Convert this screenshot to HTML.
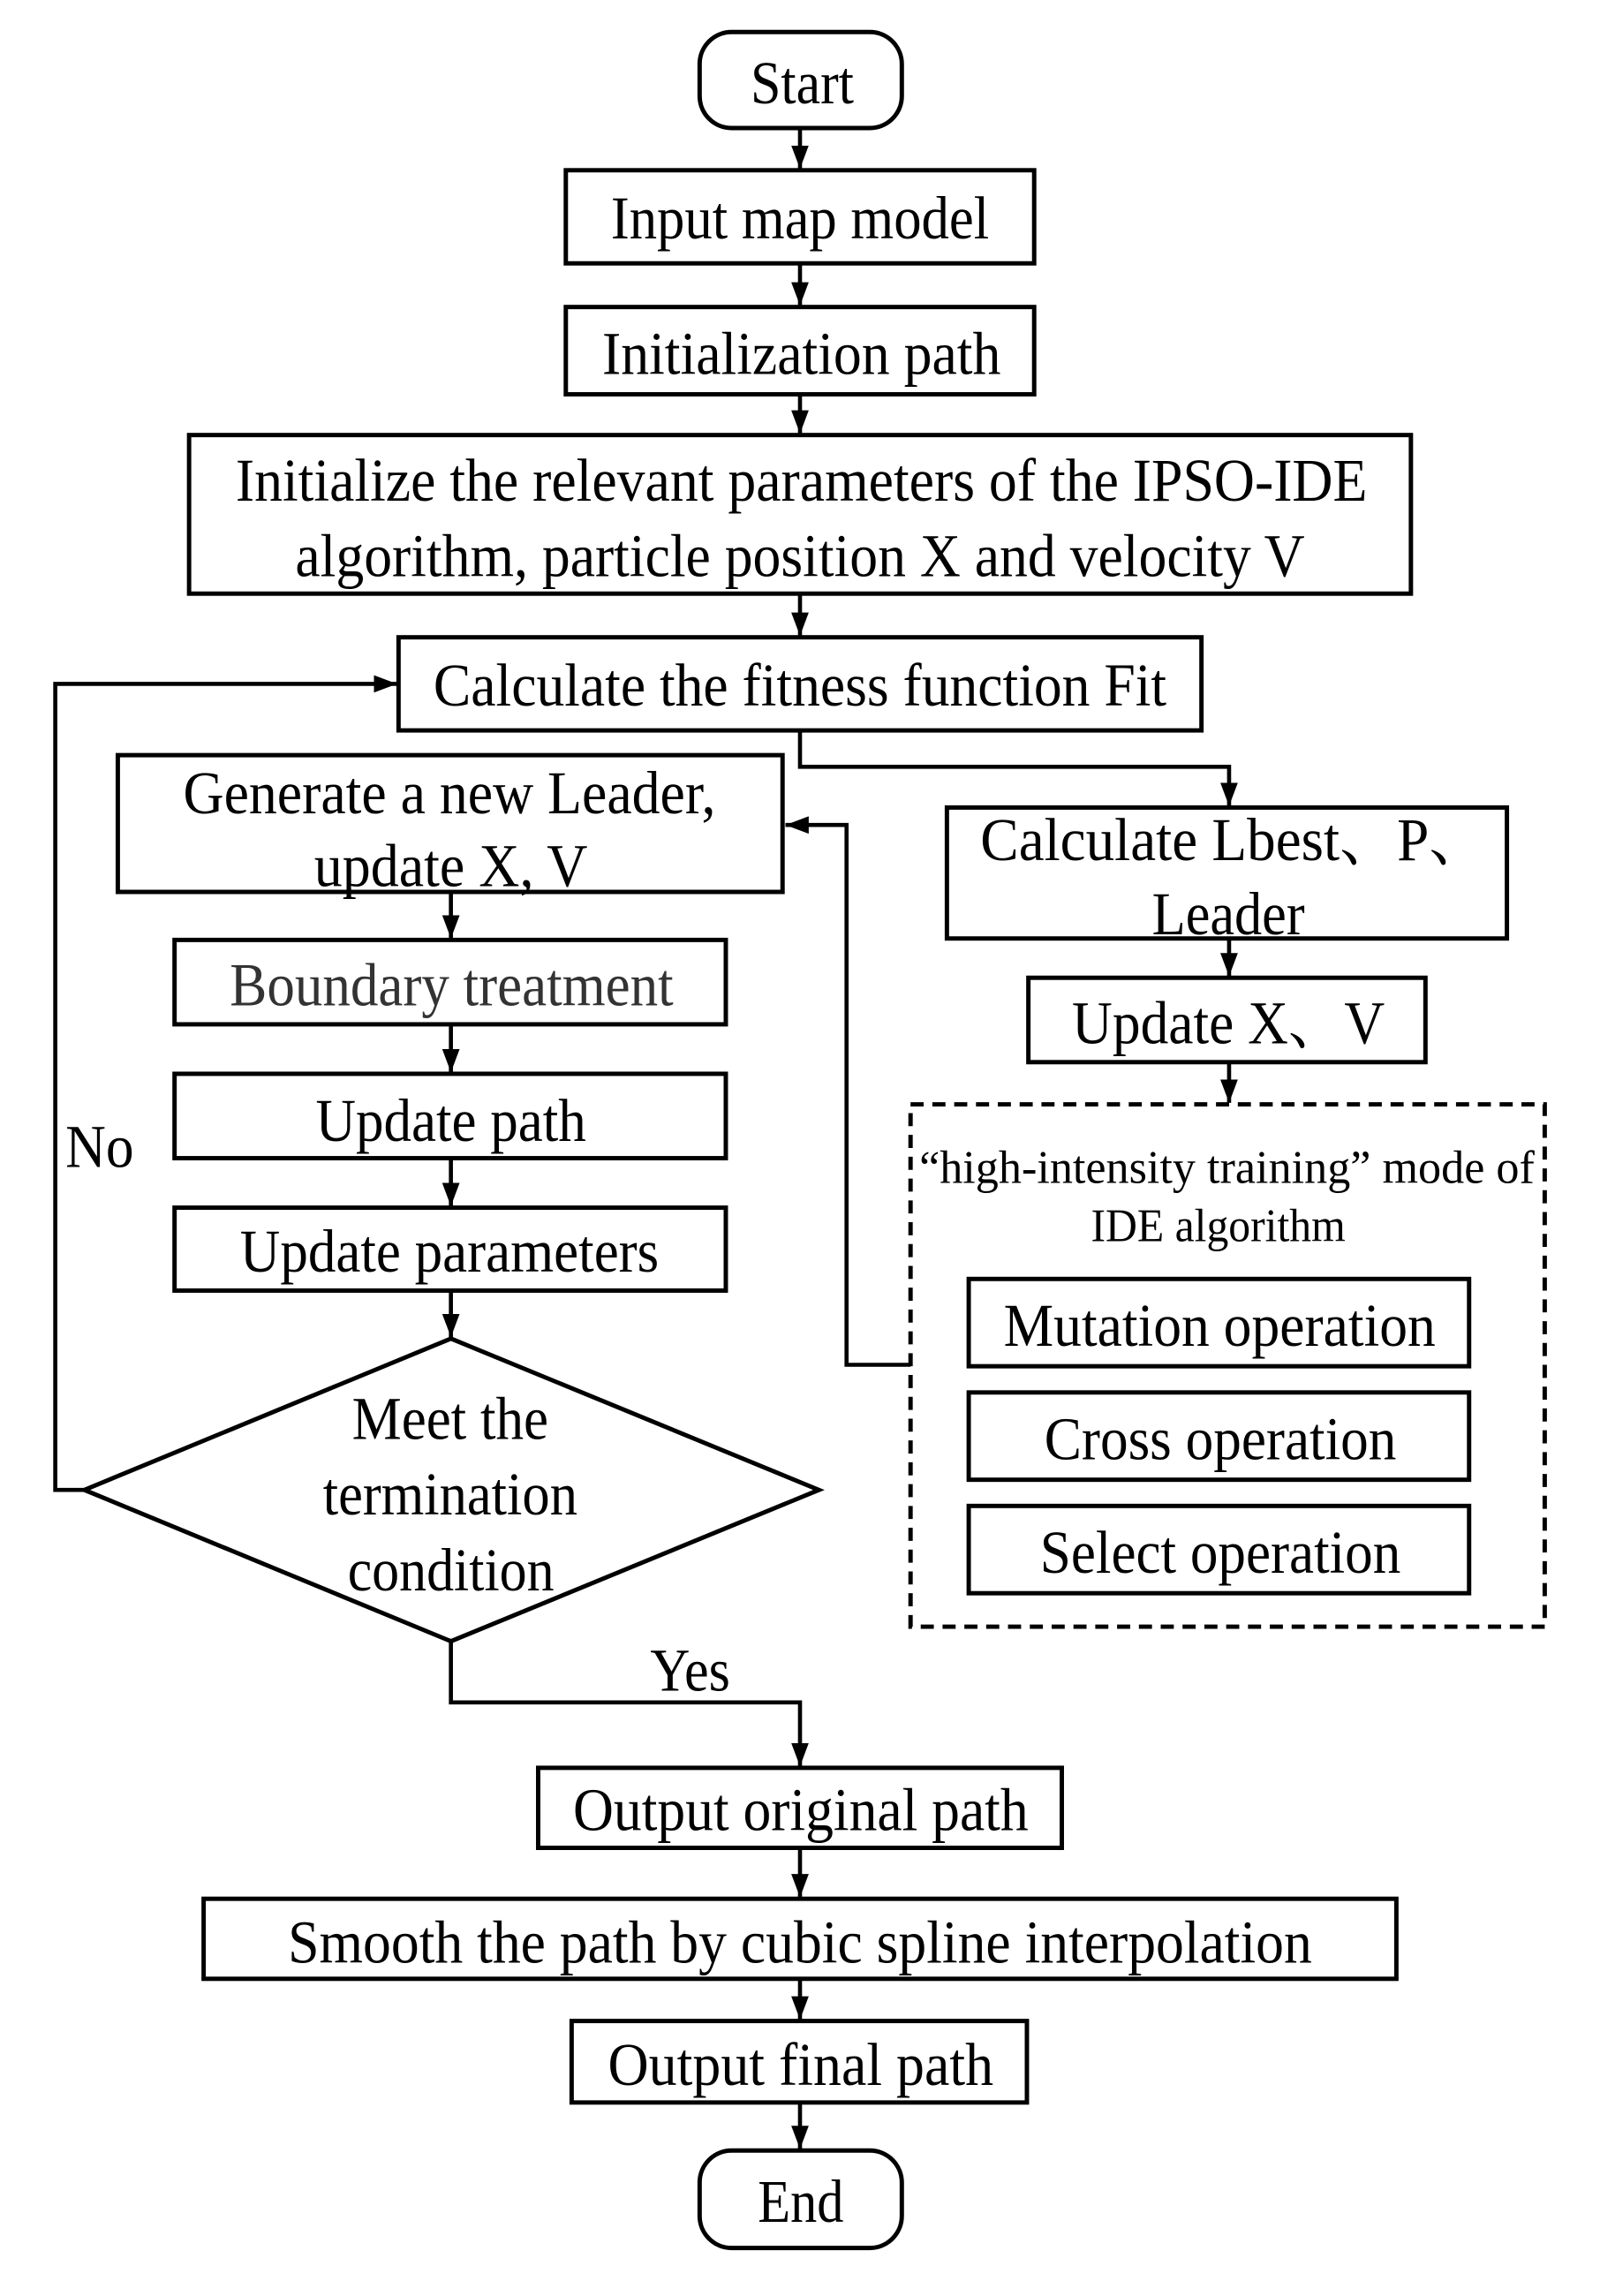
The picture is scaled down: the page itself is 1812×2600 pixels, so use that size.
<!DOCTYPE html>
<html><head><meta charset="utf-8"><style>html,body{margin:0;padding:0;background:#fff}svg{display:block}</style></head>
<body>
<svg width="1812" height="2600" viewBox="0 0 1100 1578" preserveAspectRatio="none" xmlns="http://www.w3.org/2000/svg">
<defs>
<marker id="a" viewBox="0 0 16 12" refX="16" refY="6" markerWidth="16" markerHeight="12" markerUnits="userSpaceOnUse" orient="auto">
<path d="M0,0 L16,6 L0,12 z" fill="#000"/></marker>
</defs>
<g fill="none" stroke="#000" stroke-width="3">
<rect x="481" y="22" width="139" height="66" rx="22"/>
<rect x="389" y="117" width="322" height="64"/>
<rect x="389" y="211" width="322" height="60"/>
<rect x="130" y="299" width="840" height="109"/>
<rect x="274" y="438" width="552" height="64"/>
<rect x="81" y="519" width="457" height="94"/>
<rect x="120" y="646" width="379" height="58"/>
<rect x="120" y="738" width="379" height="58"/>
<rect x="120" y="830" width="379" height="57"/>
<path d="M310,920 L563,1024 L310,1128 L58,1024 Z"/>
<rect x="651" y="555" width="385" height="90"/>
<rect x="707" y="672" width="273" height="58"/>
<rect x="626" y="759" width="436" height="359" stroke-dasharray="9,6"/>
<rect x="666" y="879" width="344" height="60"/>
<rect x="666" y="957" width="344" height="60"/>
<rect x="666" y="1035" width="344" height="60"/>
<rect x="370" y="1215" width="360" height="55"/>
<rect x="140" y="1305" width="820" height="55"/>
<rect x="393" y="1389" width="313" height="56"/>
<rect x="481" y="1478" width="139" height="67" rx="22"/>
</g>
<g fill="none" stroke="#000" stroke-width="2.8">
<path d="M550,88 L550,116" marker-end="url(#a)"/>
<path d="M550,181 L550,210" marker-end="url(#a)"/>
<path d="M550,271 L550,298" marker-end="url(#a)"/>
<path d="M550,408 L550,437" marker-end="url(#a)"/>
<path d="M550,502 L550,527 L845,527 L845,554" marker-end="url(#a)"/>
<path d="M845,645 L845,671" marker-end="url(#a)"/>
<path d="M845,730 L845,758" marker-end="url(#a)"/>
<path d="M626,938 L582,938 L582,567 L540,567" marker-end="url(#a)"/>
<path d="M58,1024 L38,1024 L38,470 L273,470" marker-end="url(#a)"/>
<path d="M310,613 L310,645" marker-end="url(#a)"/>
<path d="M310,704 L310,737" marker-end="url(#a)"/>
<path d="M310,796 L310,829" marker-end="url(#a)"/>
<path d="M310,887 L310,919" marker-end="url(#a)"/>
<path d="M310,1128 L310,1170 L550,1170 L550,1214" marker-end="url(#a)"/>
<path d="M550,1270 L550,1304" marker-end="url(#a)"/>
<path d="M550,1360 L550,1388" marker-end="url(#a)"/>
<path d="M550,1445 L550,1477" marker-end="url(#a)"/>
</g>
<g font-family="Liberation Serif, serif" font-size="42" fill="#000">
<text x="516" y="71" textLength="71" lengthAdjust="spacingAndGlyphs">Start</text>
<text x="420" y="164" textLength="260" lengthAdjust="spacingAndGlyphs">Input map model</text>
<text x="414" y="257" textLength="274" lengthAdjust="spacingAndGlyphs">Initialization path</text>
<text x="162" y="344" textLength="778" lengthAdjust="spacingAndGlyphs">Initialize the relevant parameters of the IPSO-IDE</text>
<text x="203" y="396" textLength="694" lengthAdjust="spacingAndGlyphs">algorithm, particle position X and velocity V</text>
<text x="298" y="485" textLength="504" lengthAdjust="spacingAndGlyphs">Calculate the fitness function Fit</text>
<text x="126" y="559" textLength="366" lengthAdjust="spacingAndGlyphs">Generate a new Leader,</text>
<text x="216" y="609" textLength="188" lengthAdjust="spacingAndGlyphs">update X, V</text>
<text x="158" y="691" textLength="305" lengthAdjust="spacingAndGlyphs" fill="#333">Boundary treatment</text>
<text x="217" y="784" textLength="186" lengthAdjust="spacingAndGlyphs">Update path</text>
<text x="165" y="874" textLength="288" lengthAdjust="spacingAndGlyphs">Update parameters</text>
<text x="242" y="989" textLength="135" lengthAdjust="spacingAndGlyphs">Meet the</text>
<text x="222" y="1041" textLength="175" lengthAdjust="spacingAndGlyphs">termination</text>
<text x="239" y="1093" textLength="142" lengthAdjust="spacingAndGlyphs">condition</text>
<text x="674" y="591" textLength="348" lengthAdjust="spacingAndGlyphs" font-family="Liberation Serif, Noto Serif CJK SC, serif">Calculate Lbest、P、</text>
<text x="792" y="642" textLength="105" lengthAdjust="spacingAndGlyphs">Leader</text>
<text x="737" y="717" textLength="215" lengthAdjust="spacingAndGlyphs" font-family="Liberation Serif, Noto Serif CJK SC, serif">Update X、V</text>
<text x="632" y="813" textLength="423" lengthAdjust="spacingAndGlyphs" font-size="32">“high-intensity training” mode of</text>
<text x="750" y="853" textLength="175" lengthAdjust="spacingAndGlyphs" font-size="32">IDE algorithm</text>
<text x="690" y="925" textLength="297" lengthAdjust="spacingAndGlyphs">Mutation operation</text>
<text x="718" y="1003" textLength="242" lengthAdjust="spacingAndGlyphs">Cross operation</text>
<text x="715" y="1081" textLength="248" lengthAdjust="spacingAndGlyphs">Select operation</text>
<text x="447" y="1162" textLength="55" lengthAdjust="spacingAndGlyphs">Yes</text>
<text x="45" y="802" textLength="47" lengthAdjust="spacingAndGlyphs">No</text>
<text x="394" y="1258" textLength="313" lengthAdjust="spacingAndGlyphs">Output original path</text>
<text x="198" y="1349" textLength="704" lengthAdjust="spacingAndGlyphs">Smooth the path by cubic spline interpolation</text>
<text x="418" y="1433" textLength="265" lengthAdjust="spacingAndGlyphs">Output final path</text>
<text x="521" y="1527" textLength="59" lengthAdjust="spacingAndGlyphs">End</text>
</g>
</svg>
</body></html>
